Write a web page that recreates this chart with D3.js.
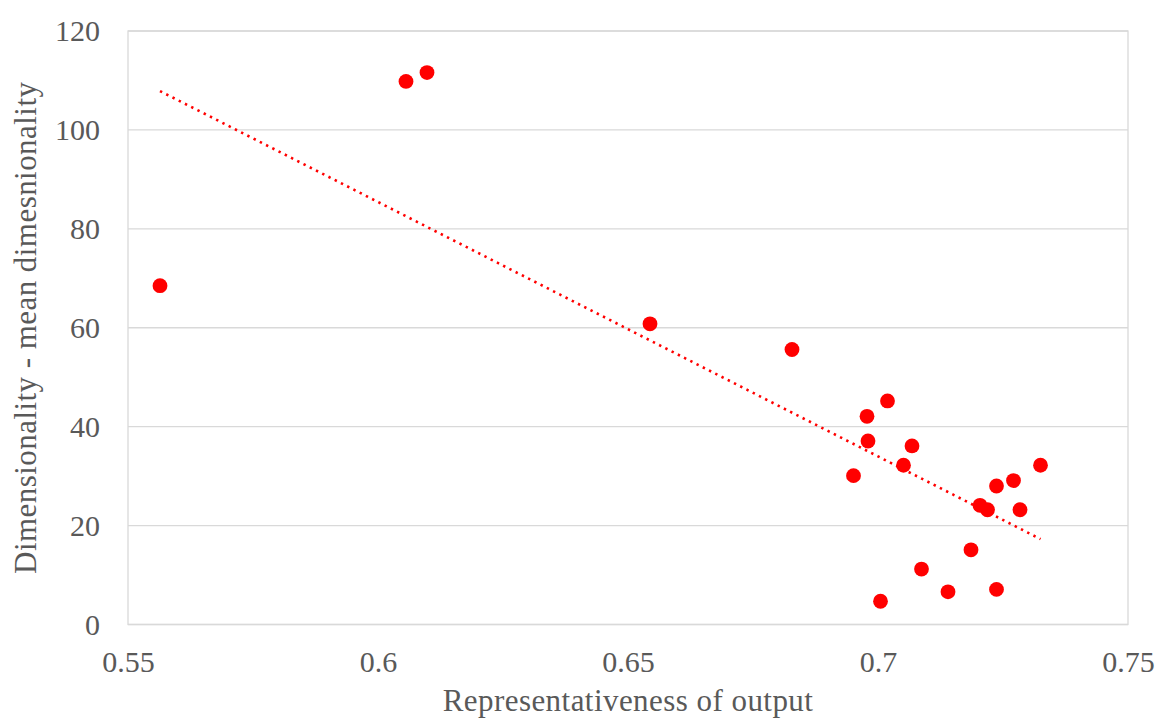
<!DOCTYPE html>
<html><head>
<meta charset="utf-8">
<script src="https://d3js.org/d3.v7.min.js"></script>
<style>
  body { margin: 0; background: #fff; }
  svg text { font-family: "Liberation Serif", "Times New Roman", serif; fill: #595959; }
</style>
</head>
<body>
<div id="chart"></div>
<script>

// values
var repr = [0.5564, 0.6056, 0.6098, 0.6544, 0.6828, 0.7019, 0.6978, 0.6980, 0.7068, 0.7051, 0.6951,
            0.7325, 0.7271, 0.7237, 0.7204, 0.7219, 0.7284, 0.7186, 0.7087, 0.7140, 0.7237, 0.7005];
var dims = [68.5, 109.8, 111.6, 60.8, 55.6, 45.2, 42.1, 37.1, 36.1, 32.2, 30.1,
            32.2, 29.1, 28.0, 24.1, 23.2, 23.2, 15.1, 11.2, 6.6, 7.1, 4.7];
var xTicks = [0.55, 0.6, 0.65, 0.7, 0.75];
var yTicks = [0, 20, 40, 60, 80, 100, 120];

var width = 1158, height = 720;
var margin = {top: 31, right: 30, bottom: 96, left: 128};

var svg = d3.select("#chart").append("svg")
  .attr("width", width)
  .attr("height", height);

var x = d3.scaleLinear().domain([0.55, 0.75]).range([margin.left, width - margin.right]);
var y = d3.scaleLinear().domain([0, 120]).range([height - margin.bottom + 0.5, margin.top]);

// horizontal gridlines
svg.append("g")
  .selectAll("line")
  .data(yTicks)
  .join("line")
    .attr("x1", x(0.55))
    .attr("x2", x(0.75))
    .attr("y1", function(d) { return y(d); })
    .attr("y2", function(d) { return y(d); })
    .attr("stroke", "#d9d9d9")
    .attr("stroke-width", 1.3);

// plot area border
svg.append("rect")
  .attr("x", x(0.55))
  .attr("y", y(120))
  .attr("width", x(0.75) - x(0.55))
  .attr("height", y(0) - y(120))
  .attr("fill", "none")
  .attr("stroke", "#d9d9d9")
  .attr("stroke-width", 1.3);

// axes (labels only)
var xAxis = svg.append("g")
  .attr("transform", "translate(0," + y(0) + ")")
  .call(d3.axisBottom(x).tickValues(xTicks).tickSize(0).tickPadding(26).tickFormat(d3.format("")));
var yAxis = svg.append("g")
  .attr("transform", "translate(" + x(0.55) + ",0)")
  .call(d3.axisLeft(y).tickValues(yTicks).tickSize(0).tickPadding(28));
[xAxis, yAxis].forEach(function(g) {
  g.select(".domain").remove();
  g.selectAll("text").style("font-size", "30px").attr("fill", "#595959")
    .style("font-family", "'Liberation Serif', 'Times New Roman', serif");
});

// linear trendline (least squares, like the spreadsheet)
var mx = d3.mean(repr), my = d3.mean(dims);
var sxy = d3.sum(repr, function(v, i) { return (v - mx) * (dims[i] - my); });
var sxx = d3.sum(repr, function(v) { return (v - mx) * (v - mx); });
var slope = sxy / sxx, icpt = my - slope * mx;
var ext = d3.extent(repr);

svg.append("path")
  .datum(ext)
  .attr("fill", "none")
  .attr("stroke", "#ff0000")
  .attr("stroke-width", 2.6)
  .attr("stroke-dasharray", "2.4,4.6")
  .attr("d", d3.line()
    .x(function(d) { return x(d); })
    .y(function(d) { return y(slope * d + icpt); }));

// points
svg.append("g")
  .selectAll("circle")
  .data(repr)
  .join("circle")
    .attr("cx", function(d) { return x(d); })
    .attr("cy", function(d, i) { return y(dims[i]); })
    .attr("r", 7.4)
    .attr("fill", "#ff0000");

// axis titles
svg.append("text")
  .attr("x", (x(0.55) + x(0.75)) / 2)
  .attr("y", 711)
  .attr("text-anchor", "middle")
  .style("font-size", "31px")
  .style("letter-spacing", "0.45px")
  .text("Representativeness of output");

svg.append("text")
  .attr("transform", "translate(36," + (y(0) + y(120)) / 2 + ") rotate(-90)")
  .attr("text-anchor", "middle")
  .style("font-size", "31px")
  .style("letter-spacing", "0.45px")
  .text("Dimensionality - mean dimesnionality");

</script>
</body></html>
